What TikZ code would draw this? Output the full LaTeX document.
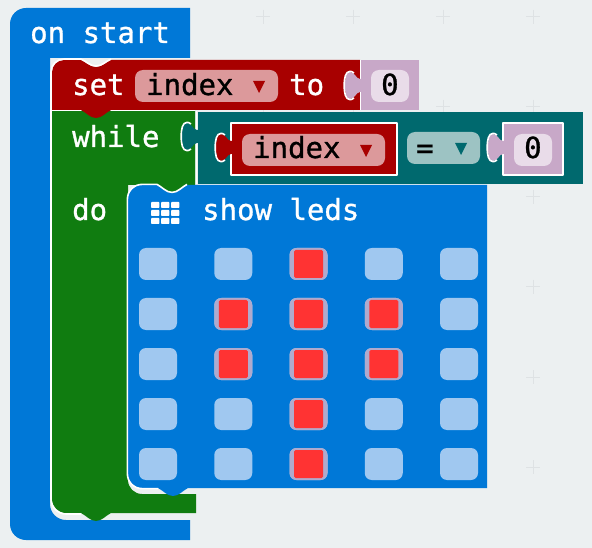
\documentclass[tikz,border=0pt]{standalone}
\usepackage{fontspec}
\newfontfamily\blockfont[FakeBold=1]{DejaVu Sans Mono}
\usepackage{xcolor}
\definecolor{mbbg}{RGB}{236,240,241}
\definecolor{mbplus}{RGB}{222,226,228}
\definecolor{mbblue}{RGB}{0,120,215}
\definecolor{mbred}{RGB}{168,0,0}
\definecolor{mbgreen}{RGB}{16,124,16}
\definecolor{mbteal}{RGB}{0,105,110}
\definecolor{mbmauve}{RGB}{200,168,200}
\definecolor{mbpillred}{RGB}{220,153,155}
\definecolor{mbpillteal}{RGB}{157,195,195}
\definecolor{mbpillnum}{RGB}{233,220,233}
\definecolor{mbcell}{RGB}{160,200,240}
\definecolor{mbcellon}{RGB}{176,170,205}
\definecolor{mbled}{RGB}{255,51,51}
\tikzstyle{blocktext} = [anchor=base west,inner sep=0pt,text=white,font=\fontsize{29}{29}\selectfont\blockfont]
\tikzstyle{fieldtext} = [anchor=base west,inner sep=0pt,text=black,font=\fontsize{29}{29}\selectfont\blockfont]
\tikzstyle{edge} = [draw=white,line width=1.6pt,line join=round]
\tikzstyle{pill} = [rounded corners=8pt]
\tikzstyle{plusmark} = [draw=mbplus,line width=1pt]
\tikzstyle{cell} = [rectangle,rounded corners=7pt,minimum width=38pt,minimum height=32pt,inner sep=0pt,fill=mbcell]
\tikzstyle{cellon} = [cell,fill=mbcellon]
\tikzstyle{led} = [rectangle,rounded corners=1.5pt,minimum width=29pt,minimum height=28pt,inner sep=0pt,fill=mbled]
% path piece: dip of 30 wide and #4 deep from x=#1, #3 = 1 goes right, -1 goes left
\newcommand{\notchpiece}[4]{.. controls ({#1+#3*5},{#2+#4*0.3}) and ({#1+#3*9},{#2+#4}) .. ({#1+#3*15},{#2+#4}) .. controls ({#1+#3*21},{#2+#4}) and ({#1+#3*25},{#2+#4*0.3}) .. ({#1+#3*30},#2)}
% puzzle tab, #1 = x of the block edge, #2 = top of the tab, #3 = colour
\newcommand{\puzzletab}[3]{
\fill[#3] (#1+1,#2+7) -- (#1,#2+7) .. controls (#1-4,#2+7) and (#1-5,#2) .. (#1-10,#2)
  .. controls (#1-14,#2) and (#1-15,#2+6) .. (#1-15,#2+13.5)
  .. controls (#1-15,#2+21) and (#1-14,#2+27) .. (#1-10,#2+27)
  .. controls (#1-5,#2+27) and (#1-4,#2+20) .. (#1,#2+20) -- (#1+1,#2+20) -- cycle;
\draw[edge] (#1-6,#2+1) .. controls (#1-8,#2-0.6) and (#1-9,#2-0.6) .. (#1-10,#2-0.6)
  .. controls (#1-14.6,#2-0.6) and (#1-15.8,#2+6) .. (#1-15.8,#2+13.5)
  .. controls (#1-15.8,#2+21) and (#1-14.6,#2+27.6) .. (#1-10,#2+27.6)
  .. controls (#1-9,#2+27.6) and (#1-8,#2+27.6) .. (#1-6,#2+26);
}
\begin{document}
\begin{tikzpicture}[x=1pt,y=-1pt]
\useasboundingbox[fill=mbbg] (0,0) rectangle (592,548);

% workspace marks
\foreach \px/\py in {263/17,353/17,443/17,533/17,263/107,353/107,443/107,533/107,533/197,533/287,533/377,533/467}
  \draw[plusmark] (\px-7,\py) -- (\px+7,\py) (\px,\py-7) -- (\px,\py+7);

% on start
\fill[mbblue] (190,8) -- (190,58) -- (50,58) -- (50,504) arc[start angle=180,end angle=90,radius=16]
  -- (190,520) -- (190,540) -- (26,540) arc[start angle=90,end angle=180,radius=16]
  -- (10,24) arc[start angle=180,end angle=270,radius=16] -- cycle;
\node[blocktext] (onstart) at (30,43) {on start};

% while
\fill[mbgreen] (52,111) -- (195,111) -- (195,185) -- (187,185) \notchpiece{187}{185}{-1}{8}
  -- (128,185) -- (128,480) arc[start angle=180,end angle=90,radius=14] -- (196,494) -- (196,513)
  -- (111,513) \notchpiece{111}{513}{-1}{8} -- (66,513) arc[start angle=90,end angle=180,radius=14] -- cycle;
\draw[edge] (51,111) -- (51,499) arc[start angle=180,end angle=90,radius=15] -- (81,514);
\draw[edge] (196.5,111) -- (196.5,184);
\node[blocktext] (whilelabel) at (72,147) {while};
\node[blocktext] (dolabel) at (72,220) {do};

% while condition
\fill[mbteal] (198,112) rectangle (583,184);
\puzzletab{197}{123}{mbteal}
\draw[edge,fill=mbred] (231,123) rectangle (397,175);
\puzzletab{231}{134}{mbred}
\fill[mbpillred,pill] (242,134) rectangle (385,166);
\node[fieldtext] (indexb) at (253,158) {index};
\fill[mbred] (360,145) -- (372,145) -- (366,157) -- cycle;
\fill[mbpillteal,pill] (407,132) rectangle (480,164);
\node[fieldtext] (equals) at (416,158) {=};
\fill[mbteal] (455,143) -- (467,143) -- (461,155) -- cycle;
\draw[edge,fill=mbmauve] (503,123) rectangle (563,175);
\puzzletab{503}{134}{mbmauve}
\fill[mbpillnum,pill] (514,134) rectangle (552,166);
\node[fieldtext] (zerob) at (524,158) {0};

% set block
\fill[mbred] (52,110) -- (52,72) arc[start angle=180,end angle=270,radius=12] -- (81,60) \notchpiece{81}{60}{1}{7}
  -- (360,60) -- (360,110) -- (111,110) \notchpiece{111}{110}{-1}{8} -- cycle;
\draw[edge] (51,111) -- (51,72) arc[start angle=180,end angle=270,radius=13] -- (81,59) \notchpiece{81}{59}{1}{7};
\draw[edge] (52,110.5) -- (81,110.5) (111,110.5) -- (195,110.5);
\node[blocktext] (setlabel) at (72,95) {set};
\fill[mbpillred,pill] (135,70) rectangle (278,102);
\node[fieldtext] (indexa) at (146,95) {index};
\fill[mbred] (253,81) -- (265,81) -- (259,93) -- cycle;
\node[blocktext] (tolabel) at (289,95) {to};
\fill[mbmauve] (361,60) rectangle (419,110);
\draw[edge] (360.5,60) -- (360.5,110);
\puzzletab{360}{72}{mbmauve}
\fill[mbpillnum,pill] (371,70) rectangle (409,102);
\node[fieldtext] (zeroa) at (381,95) {0};

% show leds
\fill[mbblue] (157,185) \notchpiece{157}{185}{1}{8} -- (487,185) -- (487,488) -- (188,488)
  \notchpiece{188}{488}{-1}{8} -- (142,488) arc[start angle=90,end angle=180,radius=14]
  -- (128,199) arc[start angle=180,end angle=270,radius=14] -- cycle;
\draw[edge] (158,488.6) -- (142,488.6) arc[start angle=90,end angle=180,radius=14.6]
  -- (127.4,199) arc[start angle=180,end angle=270,radius=14.6] -- (157,184.4) \notchpiece{157}{184.4}{1}{8};
\node[blocktext] (showleds) at (202,220) {show leds};
\foreach \gx in {0,1,2}
  \foreach \gy in {0,1,2}
    \fill[white,rounded corners=0.8pt] (151+\gx*10,202+\gy*8) rectangle ++(8.4,6);

% led grid
\foreach \row/\cols in {0/{2},1/{1,2,3},2/{1,2,3},3/{2},4/{2}}{
  \foreach \col in {0,...,4}
    \node[cell] (cell\row\col) at (158+\col*75.25,264+\row*50) {};
  \foreach \col in \cols{
    \node[cellon] (cellon\row\col) at (158+\col*75.25,264+\row*50) {};
    \node[led] (led\row\col) at (cellon\row\col) {};
  }
}
\end{tikzpicture}
\end{document}
